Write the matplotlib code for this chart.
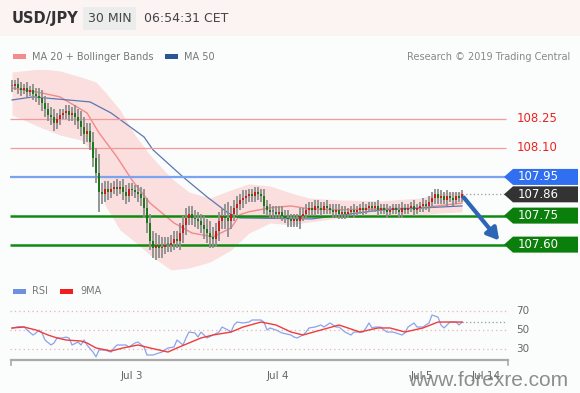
import matplotlib
matplotlib.use("Agg")
import matplotlib.pyplot as plt
from matplotlib.patches import Rectangle, Polygon
import numpy as np

# USD/JPY 30 min - Trading Central style chart

W, H = 580, 393

# ---- data (bar index: 0 .. 150, 30 min bars) ----
closes = [108.42, 108.43, 108.41, 108.40, 108.41, 108.39, 108.40, 108.38, 108.37, 108.36,
          108.33, 108.30, 108.27, 108.26, 108.23, 108.25, 108.27, 108.28, 108.29, 108.27,
          108.28, 108.26, 108.24, 108.21, 108.17, 108.19, 108.13, 108.05, 107.97, 107.87,
          107.86, 107.89, 107.87, 107.89, 107.90, 107.89, 107.90, 107.87, 107.85, 107.89,
          107.88, 107.87, 107.86, 107.84, 107.79, 107.71, 107.62, 107.58, 107.60, 107.58,
          107.59, 107.60, 107.60, 107.61, 107.63, 107.62, 107.66, 107.70, 107.74, 107.76,
          107.74, 107.73, 107.72, 107.70, 107.68, 107.66, 107.64, 107.63, 107.67, 107.72,
          107.75, 107.74, 107.72, 107.76, 107.79, 107.81, 107.83, 107.84, 107.85, 107.86,
          107.85, 107.87, 107.86, 107.85, 107.80, 107.78, 107.77, 107.77, 107.76, 107.77,
          107.75, 107.74, 107.73, 107.72, 107.73, 107.72, 107.75, 107.76, 107.78, 107.79,
          107.78, 107.80, 107.79, 107.78, 107.80, 107.79, 107.78, 107.77, 107.78, 107.76,
          107.77, 107.76, 107.77, 107.78, 107.77, 107.78, 107.79, 107.78, 107.79, 107.80,
          107.79, 107.80, 107.78, 107.79, 107.78, 107.77, 107.78, 107.79, 107.78, 107.77,
          107.79, 107.78, 107.79, 107.80, 107.78, 107.79, 107.80, 107.81, 107.80, 107.82,
          107.84, 107.86, 107.84, 107.85, 107.83, 107.85, 107.84, 107.83, 107.85, 107.84,
          107.86]
wick = [0.03, 0.02, 0.03, 0.03, 0.02, 0.03, 0.02, 0.03, 0.03, 0.04,
        0.04, 0.04, 0.03, 0.04, 0.04, 0.03, 0.03, 0.02, 0.03, 0.03,
        0.03, 0.04, 0.04, 0.05, 0.05, 0.04, 0.04, 0.05, 0.05, 0.10,
        0.05, 0.04, 0.04, 0.03, 0.03, 0.04, 0.03, 0.04, 0.04, 0.03,
        0.03, 0.03, 0.04, 0.04, 0.05, 0.05, 0.05, 0.05, 0.06, 0.05,
        0.05, 0.04, 0.04, 0.04, 0.04, 0.04, 0.05, 0.05, 0.05, 0.04,
        0.04, 0.04, 0.04, 0.04, 0.05, 0.05, 0.06, 0.05, 0.04, 0.05,
        0.04, 0.06, 0.08, 0.04, 0.04, 0.04, 0.03, 0.04, 0.03, 0.03,
        0.03, 0.03, 0.03, 0.03, 0.04, 0.03, 0.03, 0.03, 0.03, 0.03,
        0.03, 0.03, 0.04, 0.03, 0.03, 0.03, 0.04, 0.03, 0.03, 0.03,
        0.03, 0.03, 0.03, 0.03, 0.02, 0.03, 0.02, 0.03, 0.03, 0.03,
        0.03, 0.03, 0.02, 0.02, 0.03, 0.02, 0.02, 0.03, 0.02, 0.02,
        0.02, 0.02, 0.03, 0.02, 0.02, 0.03, 0.02, 0.02, 0.02, 0.03,
        0.03, 0.02, 0.02, 0.02, 0.03, 0.02, 0.02, 0.03, 0.02, 0.03,
        0.03, 0.03, 0.03, 0.03, 0.02, 0.03, 0.02, 0.03, 0.02, 0.02,
        0.02]

band_idx = [0, 10, 16, 23, 28, 31, 36, 41, 46, 53, 59, 66, 73, 79, 86, 93, 99, 109, 123, 136, 143, 150]
band_up = [108.493, 108.509, 108.498, 108.467, 108.441, 108.390, 108.297, 108.167, 108.064, 107.945, 107.872,
           107.841, 107.883, 107.914, 107.903, 107.867, 107.841, 107.831, 107.826, 107.841, 107.867, 107.872]
band_lo = [108.271, 108.203, 108.167, 108.141, 108.064, 107.805, 107.676, 107.614, 107.546, 107.469, 107.479,
           107.510, 107.572, 107.660, 107.712, 107.702, 107.717, 107.738, 107.748, 107.753, 107.764, 107.769]

ma20_idx = [0, 10, 16, 25, 29, 35, 40, 46, 54, 60, 67, 73, 76, 79, 86, 93, 99, 109, 123, 136, 150]
ma20 = [108.410, 108.384, 108.364, 108.281, 108.178, 108.053, 107.934, 107.815, 107.712, 107.660, 107.640,
        107.686, 107.755, 107.770, 107.790, 107.800, 107.785, 107.780, 107.785, 107.790, 107.815]

ma50_idx = [0, 7, 26, 33, 44, 47, 57, 65, 72, 76, 100, 123, 150]
ma50 = [108.348, 108.364, 108.338, 108.281, 108.157, 108.090, 107.950, 107.847, 107.764, 107.738,
        107.733, 107.779, 107.800]

levels = [108.25, 108.10, 107.95, 107.75, 107.60]
last_price = 107.86

rsi_idx = [0, 2, 4, 5, 7, 8, 9, 10, 11, 13, 14, 15, 17, 18, 19, 20, 22, 23, 24, 25, 27, 28, 29, 31, 33,
           34, 35, 38, 39, 41, 42, 44, 45, 47, 49, 50, 52, 54, 55, 57, 58, 59, 61, 62, 63, 64, 65, 67,
           69, 70, 72, 73, 74, 75, 77, 79, 80, 83, 84, 85, 86, 88, 90, 93, 94, 95, 97, 98, 99, 101, 103,
           104, 105, 106, 108, 109, 111, 113, 114, 115, 117, 118, 119, 120, 121, 123, 124, 125, 127,
           128, 130, 131, 132, 134, 135, 137, 139, 140, 142, 143, 144, 146, 148, 149, 150]
rsi = [51.8, 53.6, 53.6, 50.0, 44.6, 46.8, 50.0, 46.8, 39.2, 33.8, 36.0, 41.4, 41.4, 42.4, 41.4, 33.8,
       37.0, 33.8, 39.2, 33.8, 26.2, 21.0, 28.4, 28.4, 26.2, 30.6, 33.8, 33.8, 31.6, 36.0, 37.0, 31.6,
       23.0, 23.0, 25.2, 26.2, 30.6, 31.6, 39.2, 33.8, 41.4, 47.8, 46.8, 42.4, 47.8, 44.6, 41.4, 44.6,
       47.8, 53.2, 50.0, 47.8, 55.4, 58.6, 57.6, 58.6, 60.8, 60.8, 58.6, 50.0, 52.2, 50.0, 46.8, 44.6,
       42.4, 41.4, 44.6, 47.8, 52.2, 53.2, 55.4, 53.2, 55.4, 57.6, 53.2, 53.2, 47.8, 44.6, 47.8, 47.8,
       47.8, 52.2, 57.6, 52.2, 53.2, 53.2, 50.0, 47.8, 47.8, 46.8, 44.6, 46.8, 53.2, 57.6, 53.2, 53.2,
       57.6, 66.2, 64.0, 55.4, 52.2, 58.6, 58.6, 55.4, 58.6]

rsi_ma_idx = [0, 4, 8, 12, 15, 18, 23, 25, 28, 33, 37, 42, 46, 52, 55, 59, 63, 67, 73, 77, 83, 88, 93,
              97, 103, 109, 116, 122, 126, 131, 137, 142, 146, 150]
rsi_ma = [52.2, 53.2, 50.0, 44.6, 41.4, 39.2, 38.1, 36.0, 30.6, 27.3, 30.6, 33.8, 30.6, 26.2, 30.6, 36.0,
          41.4, 44.6, 47.8, 53.2, 58.6, 55.4, 47.8, 44.6, 50.0, 55.4, 47.8, 52.2, 52.2, 47.8, 52.2, 58.6,
          58.6, 58.6]
rsi_grid = [70, 50, 30]

date_labels = ["Jul 3", "Jul 4", "Jul 5", "Jul 14"]
date_idx = [40, 88.7, 136.7, 158]

# ---- helpers for pixel layout ----
def fx(px):
    return px / W

def fy(py):
    return 1 - py / H

def bx(px):
    # pixel x -> bar index (3 px per bar, bar 0 at x=12)
    return (px - 12) / 3.0

fig = plt.figure(figsize=(W / 100, H / 100), dpi=100)
fig.patch.set_facecolor("#fbfcfc")

# header band
fig.patches.append(Rectangle((0, fy(36)), 1, 36 / H, transform=fig.transFigure,
                             facecolor="#fcf3f3", edgecolor="none", zorder=0))
fig.patches.append(Rectangle((fx(83), fy(30)), 53 / W, 23 / H, transform=fig.transFigure,
                             facecolor="#ebeded", edgecolor="none", zorder=1))
fig.text(fx(12), fy(18), "USD/JPY", fontsize=10.5, fontweight="bold", color="#333333", va="center")
fig.text(fx(88), fy(18), "30 MIN", fontsize=9, color="#444444", va="center")
fig.text(fx(144), fy(18), "06:54:31 CET", fontsize=9, color="#444444", va="center")

# top legend
fig.patches.append(Rectangle((fx(13), fy(59)), 13 / W, 5 / H, transform=fig.transFigure,
                             facecolor="#f58b8b", edgecolor="none"))
fig.text(fx(32), fy(56.5), "MA 20 + Bollinger Bands", fontsize=7, color="#777777", va="center")
fig.patches.append(Rectangle((fx(165), fy(59)), 13 / W, 5 / H, transform=fig.transFigure,
                             facecolor="#2b5597", edgecolor="none"))
fig.text(fx(184), fy(56.5), "MA 50", fontsize=7, color="#777777", va="center")
fig.text(fx(570), fy(56.5), "Research \u00a9 2019 Trading Central", fontsize=7, color="#888888",
         va="center", ha="right")

# ---- price panel ----
ax = fig.add_axes([fx(10), fy(280), 570 / W, 210 / H])
ax.set_xlim(bx(10), bx(580))
ax.set_ylim(107.417, 108.503)
ax.axis("off")

ax.fill_between(band_idx, band_lo, band_up, color="#fcd2d2", alpha=0.7, lw=0, zorder=1)
ax.plot(ma20_idx, ma20, color="#f28a8a", lw=1.0, zorder=2)
ax.plot(ma50_idx, ma50, color="#5a78b0", lw=0.9, zorder=2)

# levels
x_end = bx(506)
ax.hlines(levels[0:2], bx(10), x_end, color="#f59a9a", lw=0.9, zorder=2)
ax.hlines(levels[2], bx(10), x_end, color="#7aa3f2", lw=1.6, zorder=2)
ax.hlines(levels[3:5], bx(10), x_end, color="#108a10", lw=1.8, zorder=2)
ax.hlines(last_price, len(closes) - 1, x_end, color="#999999", lw=0.9, linestyles=(0, (1, 2)), zorder=2)

# candles
opens = [closes[0]] + closes[:-1]
idx = np.arange(len(closes))
for i, o, c, w in zip(idx, opens, closes, wick):
    hi = max(o, c) + w
    lo = min(o, c) - w
    ax.vlines(i, lo, hi, color="#8e8e8e", lw=1.3, zorder=3)
    col = "#c81e1e" if c > o else ("#1a7a1a" if c < o else "#777777")
    b = max(abs(c - o), 0.008)
    ax.bar(i, b, bottom=min(o, c), width=0.75, color=col, lw=0, zorder=4)

# price tags
ppx = 0.005173  # price per pixel
def tag(price, face, txt_col="white"):
    h = 8 * ppx
    pts = [(bx(504), price), (bx(513), price + h), (bx(578), price + h),
           (bx(578), price - h), (bx(513), price - h)]
    ax.add_patch(Polygon(pts, closed=True, facecolor=face, edgecolor="none", zorder=5, clip_on=False))
    ax.text(bx(518), price, "%.2f" % price, color=txt_col, fontsize=8.5, va="center", ha="left", zorder=6)

ax.text(bx(517), levels[0], "%.2f" % levels[0], color="#ee2222", fontsize=8.5, va="center")
ax.text(bx(517), levels[1], "%.2f" % levels[1], color="#ee2222", fontsize=8.5, va="center")
tag(levels[2], "#2f6ff0")
tag(last_price, "#333333")
tag(levels[3], "#0b7f0b")
tag(levels[4], "#0b7f0b")

# forecast arrow
ax.annotate("", xy=(bx(501), levels[4] + 2 * ppx), xytext=(len(closes) - 1, 107.855),
            arrowprops=dict(arrowstyle="-|>,head_length=0.7,head_width=0.4", color="#2c66b5", lw=3),
            zorder=6)

# ---- RSI panel ----
ax2 = fig.add_axes([fx(10), fy(360), 570 / W, 60 / H])
ax2.set_xlim(bx(10), bx(580))
ax2.set_ylim(17.6, 82.4)
ax2.axis("off")

ax2.hlines(rsi_grid, bx(10), bx(506), color="#eab3b3", lw=0.9, linestyles=(0, (1, 2.5)))
for v in rsi_grid:
    ax2.text(bx(516), v, str(v), fontsize=7.5, color="#666666", va="center")
ax2.plot(rsi_idx, rsi, color="#8aa4ea", lw=0.9, zorder=3)
ax2.plot(rsi_ma_idx, rsi_ma, color="#f03c3c", lw=1.0, zorder=4)
ax2.hlines(rsi_ma[-1], rsi_ma_idx[-1], bx(506), color="#999999", lw=0.9, linestyles=(0, (1, 2)))

# RSI axis line
ax2.plot([bx(11), bx(508)], [17.6, 17.6], color="#aaaaaa", lw=1.6, clip_on=False)
ax2.plot([bx(11), bx(11)], [17.6, 12.0], color="#aaaaaa", lw=1.2, clip_on=False)
ax2.plot([bx(508), bx(508)], [17.6, 12.0], color="#aaaaaa", lw=1.2, clip_on=False)
for lab, d in zip(date_labels, date_idx):
    ax2.text(d, 0.5, lab, fontsize=7.5, color="#666666", ha="center", va="center", clip_on=False)

fig.patches.append(Rectangle((fx(13), fy(294)), 13 / W, 5 / H, transform=fig.transFigure,
                             facecolor="#6f8fe0", edgecolor="none"))
fig.text(fx(32), fy(291.5), "RSI", fontsize=7, color="#777777", va="center")
fig.patches.append(Rectangle((fx(60), fy(294)), 13 / W, 5 / H, transform=fig.transFigure,
                             facecolor="#f01e1e", edgecolor="none"))
fig.text(fx(80), fy(291.5), "9MA", fontsize=7, color="#777777", va="center")

# watermark (sits over the last date labels, as in the source image)
fig.text(fx(488), fy(380), "www.forexre.com", fontsize=15, color="#7a7a7a", alpha=0.85,
         ha="center", va="center", family="Liberation Sans")

fig.savefig("out.png", dpi=100, facecolor=fig.get_facecolor())
